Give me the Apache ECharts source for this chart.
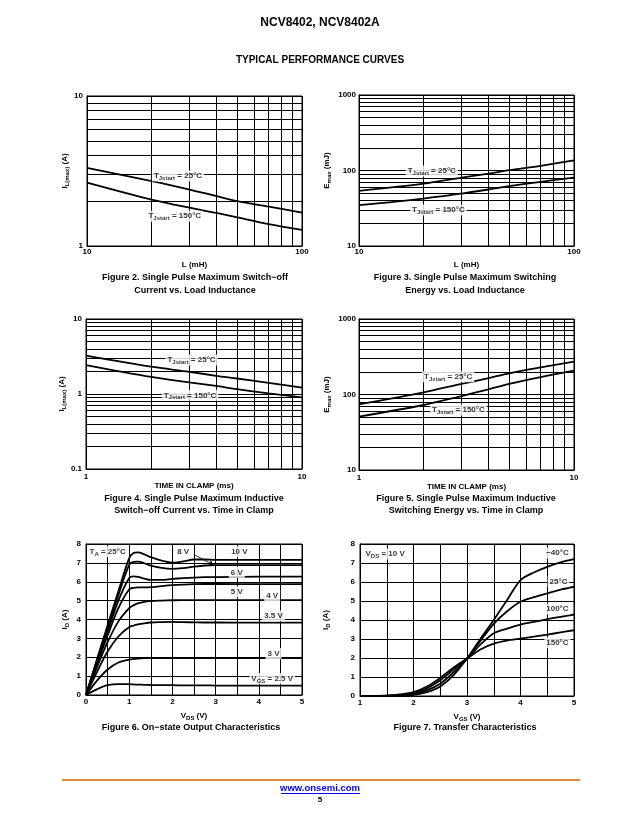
<!DOCTYPE html>
<html><head><meta charset="utf-8">
<script src="https://cdn.jsdelivr.net/npm/echarts@6/dist/echarts.min.js"></script>
<style>html,body{margin:0;padding:0;background:#fff}#c{width:641px;height:830px}</style>
</head><body><div id="c"></div>
<script>
// ---------------- DATA ----------------
// Figure 2: I_L(max) vs L
const fig2L = [10, 20, 30, 40, 50, 70, 100];
const fig2I25 = [3.32, 2.71, 2.38, 2.15, 1.99, 1.83, 1.67];
const fig2I150 = [2.65, 2.04, 1.80, 1.66, 1.55, 1.40, 1.28];
// Figure 3: Emax vs L
const fig3L = [10, 20, 30, 40, 50, 70, 100];
const fig3E25 = [53.7, 67, 80.7, 91, 101, 115, 136];
const fig3E150 = [34.7, 42.5, 49.5, 56, 62, 70.7, 80.7];
// Figure 4: I_L(max) vs time in clamp
const fig4T = [1, 2, 3, 4, 5, 7, 10];
const fig4I25 = [3.24, 2.31, 1.98, 1.75, 1.61, 1.41, 1.22];
const fig4I150 = [2.43, 1.69, 1.43, 1.28, 1.16, 1.02, 0.90];
// Figure 5: Emax vs time in clamp
const fig5T = [1, 2, 3, 4, 5, 7, 10];
const fig5E25 = [74, 107, 138, 165, 191, 228, 272];
const fig5E150 = [50.9, 72.6, 95.5, 117, 138, 170, 207];
// Figure 6: output characteristics
const fig6Vds = [0, 0.25, 0.5, 0.75, 1.0, 1.1, 1.2, 1.35, 1.5, 1.75, 2.0, 2.25, 2.5, 2.75, 3.0, 4.0, 5.0];
const fig6Id10V = [0, 1.85, 3.7, 5.5, 7.25, 7.52, 7.56, 7.45, 7.3, 7.12, 7.01, 7.08, 7.18, 7.18, 7.16, 7.16, 7.16];
const fig6Id8V  = [0, 1.8, 3.55, 5.3, 6.9, 7.05, 7.07, 6.98, 6.85, 6.73, 6.68, 6.72, 6.8, 6.86, 6.88, 6.88, 6.88];
const fig6Id6V  = [0, 1.7, 3.35, 5.0, 6.2, 6.28, 6.26, 6.17, 6.1, 6.1, 6.15, 6.19, 6.22, 6.24, 6.25, 6.27, 6.27];
const fig6Id5V  = [0, 1.6, 3.15, 4.6, 5.6, 5.68, 5.7, 5.7, 5.71, 5.77, 5.82, 5.85, 5.87, 5.88, 5.88, 5.87, 5.87];
const fig6Id4V  = [0, 1.45, 2.8, 3.9, 4.6, 4.75, 4.85, 4.93, 4.97, 5.0, 5.02, 5.03, 5.03, 5.03, 5.03, 5.03, 5.03];
const fig6Id35V = [0, 1.2, 2.3, 3.1, 3.6, 3.68, 3.74, 3.8, 3.84, 3.86, 3.87, 3.86, 3.85, 3.84, 3.84, 3.83, 3.83];
const fig6Id3V  = [0, 0.75, 1.35, 1.72, 1.88, 1.91, 1.93, 1.95, 1.96, 1.96, 1.96, 1.96, 1.96, 1.95, 1.95, 1.95, 1.95];
const fig6Id25V = [0, 0.3, 0.52, 0.58, 0.57, 0.56, 0.55, 0.54, 0.53, 0.52, 0.52, 0.51, 0.51, 0.51, 0.5, 0.5, 0.5];
// Figure 7: transfer characteristics
const fig7Vgs = [1.0, 1.5, 1.75, 2.0, 2.25, 2.5, 2.75, 3.0, 3.25, 3.5, 3.75, 4.0, 4.25, 4.5, 4.75, 5.0];
const fig7IdM40 = [0, 0.005, 0.02, 0.06, 0.2, 0.5, 1.1, 1.97, 3.0, 4.0, 5.05, 6.1, 6.5, 6.8, 7.03, 7.2];
const fig7Id25  = [0, 0.01, 0.04, 0.1, 0.3, 0.65, 1.25, 1.97, 2.9, 3.8, 4.46, 4.96, 5.2, 5.4, 5.6, 5.75];
const fig7Id100 = [0, 0.015, 0.06, 0.15, 0.4, 0.83, 1.4, 1.97, 2.7, 3.3, 3.55, 3.76, 3.9, 4.04, 4.17, 4.29];
const fig7Id150 = [0, 0.02, 0.08, 0.2, 0.5, 0.95, 1.5, 1.97, 2.45, 2.76, 2.92, 3.02, 3.12, 3.23, 3.35, 3.46];
// log-decade minor grid multipliers
const logMinorSteps = [2, 3, 4, 5, 6, 7, 8, 9];

// ---------------- BUILD ----------------
const FONT = '"Liberation Sans", Arial, Helvetica, sans-serif';
const rich = {
  m: {fontFamily: FONT, fontSize: 8, fontWeight: 'bold', color: '#000', lineHeight: 11, verticalAlign: 'middle'},
  s: {fontFamily: FONT, fontSize: 6, fontWeight: 'bold', color: '#000', lineHeight: 7, verticalAlign: 'bottom'}
};
function pairs(xs, ys) { return xs.map((x, i) => [x, ys[i]]); }
function minorVals(lo, hi) {
  const out = [];
  for (let d = lo; d < hi * 0.999; d *= 10) logMinorSteps.forEach(m => out.push(+(m * d).toPrecision(3)));
  return out;
}
const gridBase = {show: true, borderColor: '#000', borderWidth: 1, backgroundColor: 'transparent', containLabel: false, outerBoundsMode: 'none'};
const grid = [
  {left: 87, top: 96, width: 215, height: 150},
  {left: 359, top: 95, width: 215, height: 151},
  {left: 86, top: 319, width: 216, height: 150},
  {left: 359, top: 319, width: 215, height: 151},
  {left: 86, top: 544, width: 216, height: 151},
  {left: 360, top: 544, width: 214, height: 152}
].map(g => Object.assign({}, gridBase, g));

const lineSt = {color: '#000', width: 1, type: 'solid'};
function fmtNum(v) { return String(+(+v).toPrecision(3)); }
function axis(gi, type, min, max, name, gap, isY, margin, interval) {
  const a = {
    gridIndex: gi, type: type, min: min, max: max,
    axisLine: {show: true, onZero: false, lineStyle: {color: '#000', width: 1}},
    axisTick: {show: false},
    splitLine: {show: true, lineStyle: lineSt},
    axisLabel: {color: '#000', fontFamily: FONT, fontSize: 8, fontWeight: 'bold', margin: margin,
      showMinLabel: true, showMaxLabel: true, formatter: fmtNum},
    name: name, nameLocation: 'middle', nameGap: gap,
    nameTextStyle: {rich: rich, color: '#000', fontFamily: FONT, fontSize: 8, fontWeight: 'bold'}
  };
  if (type === 'log') a.logBase = 10;
  if (interval) {
    a.interval = interval;
    a.minorTick = {show: false, splitNumber: isY ? 1 : 2};
    a.minorSplitLine = {show: !isY, lineStyle: lineSt};
  }
  if (isY) a.nameRotate = 90;
  return a;
}
const xAxis = [
  axis(0, 'log', 10, 100, '{m|L (mH)}', 13, false, 2),
  axis(1, 'log', 10, 100, '{m|L (mH)}', 13, false, 2),
  axis(2, 'log', 1, 10, '{m|TIME IN CLAMP (ms)}', 10, false, 4),
  axis(3, 'log', 1, 10, '{m|TIME IN CLAMP (ms)}', 10, false, 4),
  axis(4, 'value', 0, 5, '{m|V}{s|DS}{m| (V)}', 15, false, 3, 1),
  axis(5, 'value', 1, 5, '{m|V}{s|GS}{m| (V)}', 15, false, 3, 1)
];
const yAxis = [
  axis(0, 'log', 1, 10, '{m|I}{s|L(max)}{m| (A)}', 17, true, 4),
  axis(1, 'log', 10, 1000, '{m|E}{s|max}{m| (mJ)}', 27, true, 3),
  axis(2, 'log', 0.1, 10, '{m|I}{s|L(max)}{m| (A)}', 17, true, 4),
  axis(3, 'log', 10, 1000, '{m|E}{s|max}{m| (mJ)}', 27, true, 3),
  axis(4, 'value', 0, 8, '{m|I}{s|D}{m| (A)}', 16, true, 5, 1),
  axis(5, 'value', 0, 8, '{m|I}{s|D}{m| (A)}', 29, true, 5, 1)
];

function curve(gi, xs, ys, smooth) {
  return {type: 'line', xAxisIndex: gi, yAxisIndex: gi, data: pairs(xs, ys), symbol: 'none', showSymbol: false,
    smooth: smooth, lineStyle: {color: '#000', width: 1.8}, z: 3, silent: true, animation: false};
}
function gridLines(gi, xmin, ymin, xs, ys) {
  return {type: 'line', xAxisIndex: gi, yAxisIndex: gi, data: [[xmin, ymin]], symbol: 'none', showSymbol: false,
    lineStyle: {opacity: 0, width: 0}, silent: true, animation: false, z: 1,
    markLine: {silent: true, symbol: ['none', 'none'], animation: false, z: 1,
      label: {show: false}, emphasis: {disabled: true},
      lineStyle: {color: '#000', width: 1, type: 'solid', opacity: 1},
      data: xs.map(v => ({xAxis: v})).concat(ys.map(v => ({yAxis: v})))}};
}
function labels(gi, items, extraMarkLine) {
  const s = {type: 'scatter', xAxisIndex: gi, yAxisIndex: gi, symbol: 'circle', symbolSize: 1,
    itemStyle: {color: 'rgba(0,0,0,0)'}, silent: true, animation: false, z: 10, clip: false,
    label: {show: true, position: 'inside', color: '#000', backgroundColor: '#fff', padding: [0, 2],
      fontFamily: FONT, fontSize: 8, fontWeight: 'bold', rich: rich},
    data: items.map(it => ({value: [it[0], it[1]], label: {formatter: it[2]}}))};
  if (extraMarkLine) s.markLine = extraMarkLine;
  return s;
}
const T25 = '{m|T}{s|Jstart}{m| = 25°C}';
const T150 = '{m|T}{s|Jstart}{m| = 150°C}';

const series = [
  gridLines(0, 10, 1, minorVals(10, 100), minorVals(1, 10)),
  curve(0, fig2L, fig2I25, 0.3), curve(0, fig2L, fig2I150, 0.3),
  labels(0, [[26.5, 2.93, T25], [25.6, 1.58, T150]]),

  gridLines(1, 10, 10, minorVals(10, 100), minorVals(10, 1000)),
  curve(1, fig3L, fig3E25, 0.3), curve(1, fig3L, fig3E150, 0.3),
  labels(1, [[21.8, 98.4, T25], [23.4, 30.0, T150]]),

  gridLines(2, 1, 0.1, minorVals(1, 10), minorVals(0.1, 10)),
  curve(2, fig4T, fig4I25, 0.3), curve(2, fig4T, fig4I150, 0.3),
  labels(2, [[3.08, 2.84, T25], [3.03, 0.96, T150]]),

  gridLines(3, 1, 10, minorVals(1, 10), minorVals(10, 1000)),
  curve(3, fig5T, fig5E25, 0.3), curve(3, fig5T, fig5E150, 0.3),
  labels(3, [[2.60, 172, T25], [2.90, 62.3, T150]]),

  curve(4, fig6Vds, fig6Id10V, 0.35), curve(4, fig6Vds, fig6Id8V, 0.35),
  curve(4, fig6Vds, fig6Id6V, 0.35), curve(4, fig6Vds, fig6Id5V, 0.35),
  curve(4, fig6Vds, fig6Id4V, 0.35), curve(4, fig6Vds, fig6Id35V, 0.35),
  curve(4, fig6Vds, fig6Id3V, 0.35), curve(4, fig6Vds, fig6Id25V, 0.35),
  labels(4, [
    [0.50, 7.59, '{m|T}{s|A}{m| = 25°C}'],
    [2.25, 7.59, '{m|8 V}'],
    [3.55, 7.59, '{m|10 V}'],
    [3.49, 6.5, '{m|6 V}'],
    [3.49, 5.47, '{m|5 V}'],
    [4.31, 5.26, '{m|4 V}'],
    [4.34, 4.19, '{m|3.5 V}'],
    [4.34, 2.2, '{m|3 V}'],
    [4.31, 0.88, '{m|V}{s|GS}{m| = 2.5 V}']
  ], {silent: true, animation: false, z: 11, symbol: ['none', 'arrow'], symbolSize: 5,
      label: {show: false}, lineStyle: {color: '#000', width: 0.8, type: 'solid'},
      data: [[{coord: [2.52, 7.42]}, {coord: [2.95, 6.89]}]]}),

  curve(5, fig7Vgs, fig7IdM40, 0.3), curve(5, fig7Vgs, fig7Id25, 0.3),
  curve(5, fig7Vgs, fig7Id100, 0.3), curve(5, fig7Vgs, fig7Id150, 0.3),
  labels(5, [
    [1.47, 7.48, '{m|V}{s|DS}{m| = 10 V}'],
    [4.69, 7.52, '{m|−40°C}'],
    [4.71, 6.02, '{m|25°C}'],
    [4.69, 4.58, '{m|100°C}'],
    [4.69, 2.8, '{m|150°C}']
  ])
];

function txt(x, y, text, size, color) {
  return {type: 'text', x: x, y: y, silent: true,
    style: {text: text, fill: color || '#000', fontFamily: FONT, fontSize: size, fontWeight: 'bold',
      font: 'bold ' + size + 'px ' + FONT,
      align: 'center', verticalAlign: 'middle', textAlign: 'center', textVerticalAlign: 'middle'}};
}
const graphic = [
  txt(320, 23, 'NCV8402, NCV8402A', 12),
  txt(320, 60, 'TYPICAL PERFORMANCE CURVES', 10),
  txt(195, 278, 'Figure 2. Single Pulse Maximum Switch−off', 9),
  txt(195, 290.5, 'Current vs. Load Inductance', 9),
  txt(465, 278, 'Figure 3. Single Pulse Maximum Switching', 9),
  txt(465, 290.5, 'Energy vs. Load Inductance', 9),
  txt(194, 498.5, 'Figure 4. Single Pulse Maximum Inductive', 9),
  txt(194, 510.5, 'Switch−off Current vs. Time in Clamp', 9),
  txt(466, 498.5, 'Figure 5. Single Pulse Maximum Inductive', 9),
  txt(466, 510.5, 'Switching Energy vs. Time in Clamp', 9),
  txt(191, 727.5, 'Figure 6. On−state Output Characteristics', 9),
  txt(465, 727.5, 'Figure 7. Transfer Characteristics', 9),
  {type: 'line', silent: true, shape: {x1: 62, y1: 780, x2: 580, y2: 780}, style: {stroke: '#e08a3c', lineWidth: 2}},
  txt(320, 788, 'www.onsemi.com', 9.5, '#0000ff'),
  {type: 'line', silent: true, shape: {x1: 281, y1: 793.5, x2: 360, y2: 793.5}, style: {stroke: '#0000ff', lineWidth: 1}},
  txt(320, 800, '5', 8)
];

const chart = echarts.init(document.getElementById('c'), null, {renderer: 'canvas'});
chart.setOption({
  animation: false,
  backgroundColor: '#fff',
  textStyle: {fontFamily: FONT},
  grid: grid, xAxis: xAxis, yAxis: yAxis, series: series, graphic: graphic
});
</script></body></html>
